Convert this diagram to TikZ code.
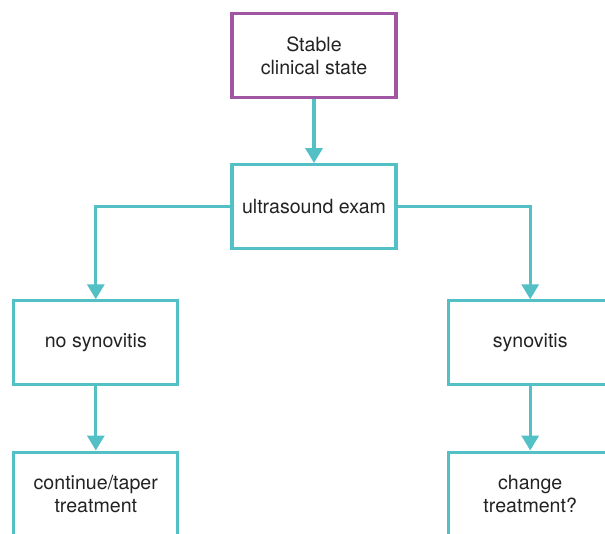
\documentclass[tikz,border=0pt]{standalone}
\usepackage{fontspec}
\setmainfont{TeX Gyre Heros}
\usetikzlibrary{positioning, arrows.meta}
\definecolor{startcolor}{RGB}{160, 86, 162}
\definecolor{flowcolor}{RGB}{82, 192, 197}
\definecolor{textcolor}{RGB}{35, 35, 35}

\begin{document}
\begin{tikzpicture}[
    node distance=64pt and 51pt,
    box/.style={rectangle, draw=flowcolor, line width=3.2pt, minimum width=164pt, minimum height=84pt, align=center, font=\fontsize{19.6}{23}\selectfont, text=textcolor},
    startbox/.style={box, draw=startcolor},
    arrow/.style={-{Triangle[width=17pt, length=15pt]}, line width=3.2pt, draw=flowcolor},
]

% ============ 画布 ============
\useasboundingbox (0,0) rectangle (605pt,-534pt);

% ============ 节点 ============
\node[startbox] (stable) at (314pt,-55.5pt) {Stable\\clinical state};

\node[box, below=of stable] (exam) {ultrasound exam};

% Left branch
\node[box, below left=49pt and 51pt of exam] (nosyn) {no synovitis};
\node[box, below=of nosyn] (taper) {continue/taper\\treatment};

% Right branch
\node[box, below right=49pt and 49pt of exam] (syn) {synovitis};
\node[box, below=of syn] (change) {change\\treatment?};

% ============ 箭头 ============
\draw[arrow] (stable) -- (exam);
\draw[arrow] (exam) -| (nosyn);
\draw[arrow] (exam) -| (syn);
\draw[arrow] (nosyn) -- (taper);
\draw[arrow] (syn) -- (change);

\end{tikzpicture}
\end{document}
